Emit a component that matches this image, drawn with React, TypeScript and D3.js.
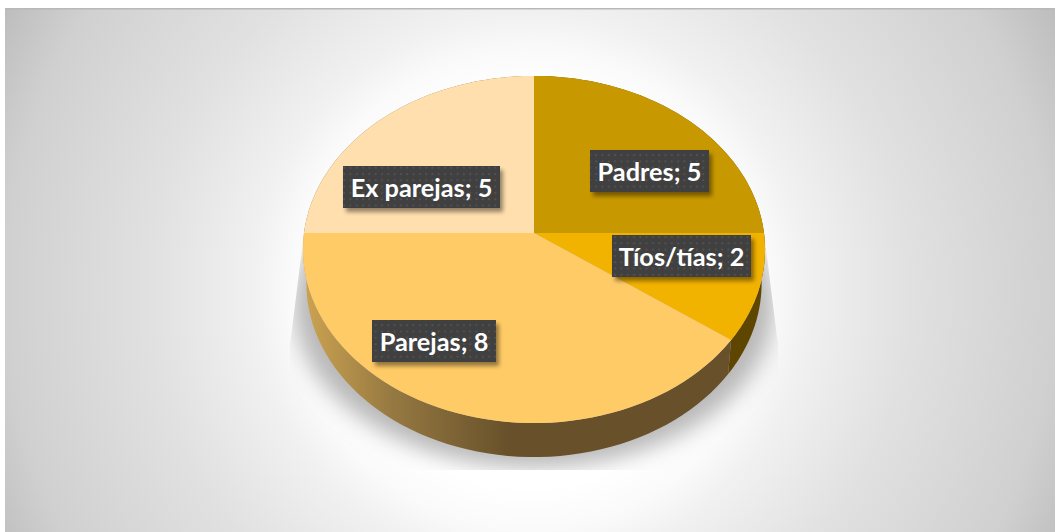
import React from "react";
import * as d3 from "d3";

const categories = ["Padres", "Tíos/tías", "Parejas", "Ex parejas"];
const values = [5, 2, 8, 5];
const sliceColors = ["#C89800", "#F2B200", "#FFCB67", "#FFDFAE"];
const wallColors = ["#6a5000", "#5f4600", "url(#wallGrad)", "#8a6f40"];
// label box left/top/width in page pixels, kept apart from the data
const labelBoxes = [
  { x: 590, y: 150, w: 119 },
  { x: 612, y: 235, w: 139 },
  { x: 372, y: 320, w: 124 },
  { x: 343, y: 166, w: 157 },
];

const W = 1055, H = 532;
const cx = 534, cy = 233, rimX = 230, depth = 34;
const persp = -0.095, rimY = 172;

// circle on the table → screen, with the slight perspective of the 3-D pie
const project = (a: number, r = 1, dy = 0, sx = 1) => {
  const u = Math.sin(a) * r, v = -Math.cos(a) * r;
  const k = 1 + persp * v;
  return [cx + (rimX * sx * u) / k, cy + dy + (rimY * v) / k] as [number, number];
};
const arcPoints = (a0: number, a1: number, dy = 0, sx = 1) =>
  d3.range(0, 61).map((i) => project(a0 + ((a1 - a0) * i) / 60, 1, dy, sx));

const line = d3.line();
const pie = d3.pie<number>().sort(null).startAngle(0).endAngle(2 * Math.PI);
const arcs = pie(values);

export default function App() {
  return (
    <svg width={W} height={H} style={{ position: "fixed", left: 0, top: 0, background: "#fff" }}>
      <defs>
        <radialGradient id="bg" gradientUnits="userSpaceOnUse" cx="530" cy="290" r="600">
          <stop offset="0" stopColor="#ffffff" />
          <stop offset="0.33" stopColor="#ffffff" />
          <stop offset="0.4" stopColor="#fafafa" />
          <stop offset="0.46" stopColor="#f1f1f1" />
          <stop offset="0.63" stopColor="#e1e1e1" />
          <stop offset="0.875" stopColor="#d0d0d0" />
          <stop offset="0.975" stopColor="#c0c0c0" />
          <stop offset="1" stopColor="#bbbbbb" />
        </radialGradient>
        <linearGradient id="wallGrad" gradientUnits="userSpaceOnUse" x1="310" x2="510" y1="0" y2="0">
          <stop offset="0" stopColor="#c9a050" />
          <stop offset="0.4" stopColor="#977a42" />
          <stop offset="1" stopColor="#67502a" />
        </linearGradient>
        <filter id="blur" x="-20%" y="-20%" width="140%" height="140%">
          <feGaussianBlur stdDeviation="11" />
        </filter>
        <filter id="boxShadow" x="-20%" y="-30%" width="140%" height="170%">
          <feGaussianBlur stdDeviation="2.2" />
        </filter>
        <clipPath id="shadowClip">
          <polygon points="304,233 290,345 290,470 778,470 778,345 764,233" />
        </clipPath>
        <pattern id="dots" x="2" y="2" width="6.3" height="6.3" patternUnits="userSpaceOnUse">
          <rect width="6.3" height="6.3" fill="#404040" />
          <circle cx="2" cy="2" r="1" fill="#545454" />
        </pattern>
      </defs>

      <rect x={5} y={8} width={W - 5} height={H - 8} fill="url(#bg)" />
      <rect x={5} y={8} width={W - 5} height={1.5} fill="#b8b8b8" />

      <g clipPath="url(#shadowClip)">
        <ellipse cx={cx} cy={305} rx={240} ry={163} fill="#b8b8b8" filter="url(#blur)" />
      </g>

      {arcs.map((d, i) => (
        <path
          key={"wall" + i}
          fill={wallColors[i]}
          d={(line([...arcPoints(d.startAngle, d.endAngle), ...arcPoints(d.endAngle, d.startAngle, depth, 0.985)]) ?? "") + "Z"}
        />
      ))}
      {arcs.map((d, i) => (
        <path
          key={"top" + i}
          fill={sliceColors[i]}
          d={(line([[cx, cy], ...arcPoints(d.startAngle, d.endAngle)]) ?? "") + "Z"}
        />
      ))}

      {categories.map((c, i) => {
        const b = labelBoxes[i];
        const h = 42;
        return (
          <g key={c}>
            <rect x={b.x + 3} y={b.y + 4} width={b.w} height={h} fill="#000" opacity={0.42} filter="url(#boxShadow)" />
            <rect x={b.x} y={b.y} width={b.w} height={h} fill="url(#dots)" />
            <text
              x={b.x + b.w / 2}
              y={b.y + 31}
              textAnchor="middle"
              fill="#fff"
              fontFamily="Lato, sans-serif"
              fontWeight={700}
              fontSize={25.3}
            >
              {`${c}; ${values[i]}`}
            </text>
          </g>
        );
      })}
    </svg>
  );
}
